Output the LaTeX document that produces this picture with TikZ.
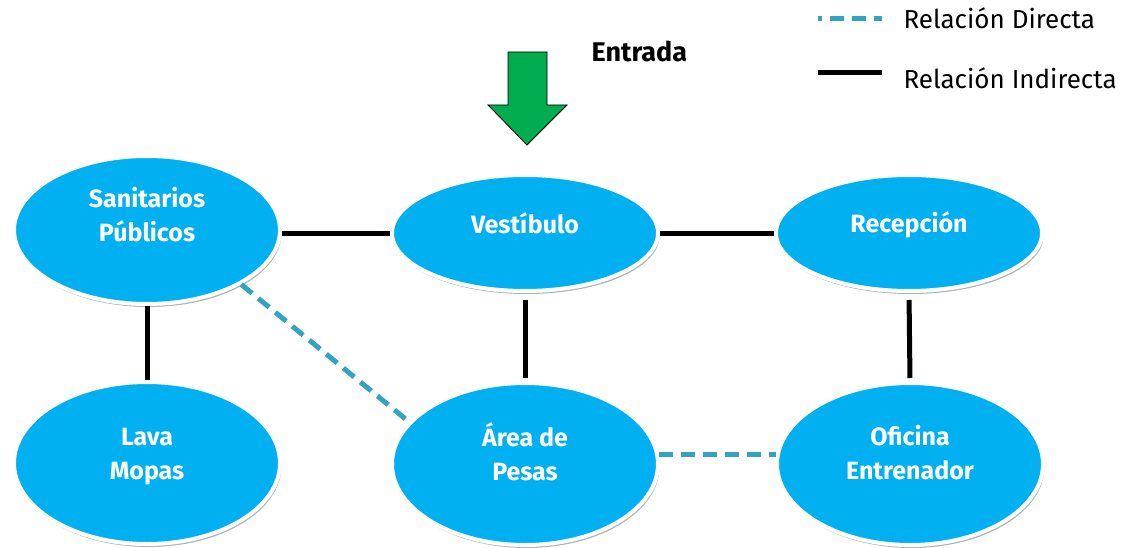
\documentclass[tikz,border=0pt]{standalone}
\usepackage{fontspec}
\setmainfont{Fira Sans}
\usetikzlibrary{shapes,shadows}

\definecolor{areablue}{HTML}{00B0F0}
\definecolor{dirblue}{HTML}{31A3C3}
\definecolor{ingreen}{HTML}{00AC4E}

\begin{document}
\begin{tikzpicture}[
		x=1pt, y=-1pt,
		every node/.style={font=\fontsize{22}{34}\selectfont},
		area/.style={ellipse,draw=white,line width=4pt,fill=areablue,inner sep=0pt,
			minimum width=266pt,
			drop shadow={shadow xshift=1.5pt,shadow yshift=-3pt,opacity=0.3,fill=black}},
		areatext/.style={text=white,align=center,font=\fontsize{25}{34}\selectfont\bfseries},
		indirect/.style={line width=5pt,black},
		direct/.style={line width=5pt,dirblue,dash pattern=on 14pt off 8pt}
	]

		\useasboundingbox (0,0) rectangle (1124,548);

		% Areas
		\node[area,minimum height=148pt,label={[areatext,yshift=15pt]center:Sanitarios\\Públicos}] (san) at (147,230) {};
		\node[area,minimum height=116pt,label={[areatext,yshift=10pt]center:Vestíbulo}] (ves) at (525,233) {};
		\node[area,minimum height=116pt,label={[areatext,yshift=8pt]center:Recepción}] (rec) at (909,233) {};
		\node[area,minimum height=162pt,label={[areatext,yshift=6pt]center:Lava\\Mopas}] (lav) at (147,463) {};
		\node[area,minimum height=162pt,label={[areatext,yshift=12pt]center:Área de\\Pesas}] (pes) at (525,464) {};
		\node[area,minimum height=162pt,label={[areatext,yshift=11pt]center:Oficina\\Entrenador}] (ofi) at (910,464) {};

		% Relations
		\draw[indirect] (san.east |- ves.west) -- (ves.west);
		\draw[indirect] (ves.east) -- (rec.west);
		\draw[indirect] (san.south) -- (lav.north);
		\draw[indirect,shorten <=7pt,shorten >=3pt] (ves.south) -- (pes.north);
		\draw[indirect,shorten <=7pt,shorten >=3pt] (rec.south) -- (ofi.north);
		\draw[direct] (san.-30) -- (pes.160);
		\draw[direct] (pes.4) -- (ofi.176);

		% Entrance
		\draw[fill=ingreen,line width=0.8pt,line join=miter]
			(508,52) -- (547,52) -- (547,105) -- (567,105) -- (527,145)
			-- (488,105) -- (508,105) -- cycle;
		\node[anchor=base west,font=\fontsize{27}{30}\selectfont\bfseries] (entrada) at (588,62) {Entrada};

		% Legend
		\coordinate (d1) at (818,19);
		\coordinate (d2) at (882,19);
		\coordinate (i1) at (818,73);
		\coordinate (i2) at (882,73);
		\draw[direct,dash phase=10pt] (d1) -- (d2);
		\draw[indirect] (i1) -- (i2);
		\node[anchor=base west,font=\fontsize{26}{30}\selectfont] (ldir) at (900,29) {Relación Directa};
		\node[anchor=base west,font=\fontsize{26}{30}\selectfont] (lind) at (900,89) {Relación Indirecta};
	\end{tikzpicture}
\end{document}
